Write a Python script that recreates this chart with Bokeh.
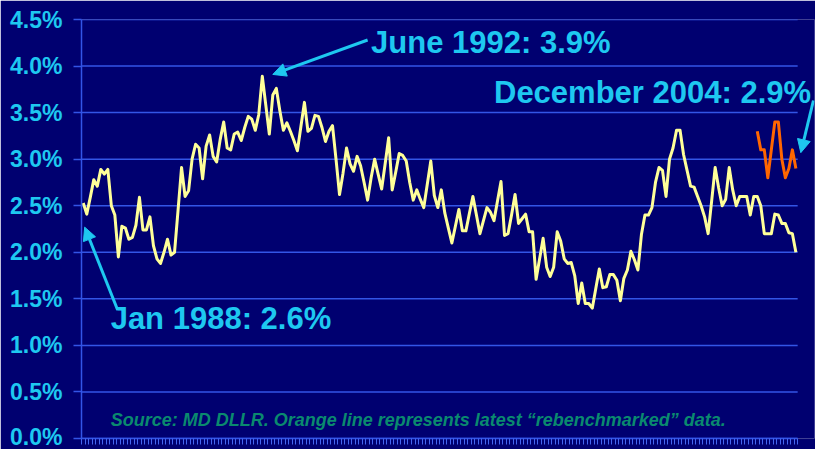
from bokeh.plotting import figure
from bokeh.models import (Arrow, NormalHead, Label, FixedTicker, PrintfTickFormatter,
                          Range1d, ColumnDataSource)
from bokeh.embed import file_html
from bokeh.resources import INLINE

# ---------------- data (monthly, Jan 1988 .. Dec 2004) ----------------
yellow = [
    2.53, 2.41, 2.59, 2.78, 2.71, 2.89, 2.84, 2.89, 2.50, 2.40, 1.95, 2.28,
    2.26, 2.14, 2.16, 2.29, 2.59, 2.24, 2.24, 2.38, 2.07, 1.93, 1.88, 2.00,
    2.14, 1.97, 2.00, 2.45, 2.91, 2.60, 2.66, 3.00, 3.16, 3.12, 2.79, 3.14,
    3.26, 3.03, 2.97, 3.21, 3.40, 3.12, 3.10, 3.27, 3.29, 3.20, 3.34, 3.46,
    3.43, 3.31, 3.48, 3.89, 3.58, 3.27, 3.69, 3.76, 3.52, 3.31, 3.39, 3.30,
    3.20, 3.09, 3.35, 3.61, 3.30, 3.33, 3.47, 3.46, 3.34, 3.19, 3.30, 3.36,
    3.00, 2.62, 2.85, 3.12, 2.95, 2.87, 3.03, 2.93, 2.75, 2.56, 2.80, 3.00,
    2.84, 2.68, 2.95, 3.23, 2.67, 2.86, 3.06, 3.04, 2.98, 2.75, 2.56, 2.67,
    2.57, 2.48, 2.73, 2.98, 2.61, 2.48, 2.67, 2.42, 2.26, 2.10, 2.28, 2.46,
    2.23, 2.23, 2.42, 2.60, 2.40, 2.20, 2.34, 2.48, 2.43, 2.34, 2.55, 2.76,
    2.18, 2.20, 2.40, 2.62, 2.31, 2.36, 2.41, 2.22, 2.22, 1.71, 1.93, 2.15,
    1.84, 1.74, 1.84, 2.22, 2.12, 1.93, 1.88, 1.89, 1.75, 1.45, 1.67, 1.45,
    1.45, 1.40, 1.61, 1.82, 1.62, 1.63, 1.76, 1.76, 1.70, 1.48, 1.72, 1.81,
    2.01, 1.92, 1.81, 2.19, 2.40, 2.40, 2.48, 2.75, 2.91, 2.88, 2.60, 3.00,
    3.12, 3.31, 3.31, 3.05, 2.88, 2.71, 2.70, 2.60, 2.50, 2.38, 2.20, 2.55,
    2.91, 2.69, 2.50, 2.57, 2.91, 2.67, 2.50, 2.60, 2.60, 2.60, 2.40, 2.60,
    2.60, 2.50, 2.20, 2.20, 2.20, 2.41, 2.40, 2.31, 2.31, 2.21, 2.20, 2.00,
]
months = list(range(len(yellow)))

# rebenchmarked 2004 data (Jan..Dec 2004)
orange = [3.3, 3.1, 3.1, 2.8, 3.1, 3.4, 3.4, 3.0, 2.8, 2.9, 3.1, 2.9]
orange_months = list(range(len(yellow) - len(orange), len(yellow)))

y_ticks = [0.0, 0.5, 1.0, 1.5, 2.0, 2.5, 3.0, 3.5, 4.0, 4.5]

note_jun = "June 1992: 3.9%"
note_jan = "Jan 1988: 2.6%"
note_dec = "December 2004: 2.9%"
note_src = "Source: MD DLLR. Orange line represents latest \u201crebenchmarked\u201d data."

# ---------------- styling ----------------
BG = "#000070"
GRID = "#3355E6"
CYAN = "#1EC8F0"
YELLOW = "#FFFF99"
ORANGE = "#FF6600"
SRC = "#0A8A6E"
FONT = "Liberation Sans"

n = len(yellow)
x_lo, x_hi = -0.5, n - 0.5          # category extent of the axis
# frame is a little wider than the axis so the right-hand arrow can sit outside it
p = figure(width=815, height=449, output_backend="svg", toolbar_location=None,
           x_range=Range1d(x_lo, x_hi + 4.8), y_range=Range1d(0, 4.5),
           min_border_left=81, min_border_right=1, min_border_top=19,
           min_border_bottom=11)
p.background_fill_color = BG
p.border_fill_color = BG
p.outline_line_color = None

p.xgrid.grid_line_color = None
p.ygrid.grid_line_color = None

# horizontal grid lines across the category extent only
p.segment(x0=[x_lo] * len(y_ticks), x1=[x_hi] * len(y_ticks), y0=y_ticks, y1=y_ticks,
          line_color=GRID, line_width=1.5)

# y axis
p.yaxis.ticker = FixedTicker(ticks=y_ticks)
p.yaxis.formatter = PrintfTickFormatter(format="%.1f%%")
p.yaxis.axis_line_color = GRID
p.yaxis.axis_line_width = 1.5
p.yaxis.major_tick_line_color = GRID
p.yaxis.major_tick_line_width = 1.5
p.yaxis.major_tick_out = 8
p.yaxis.major_tick_in = 0
p.yaxis.minor_tick_line_color = None
p.yaxis.major_label_text_color = CYAN
p.yaxis.major_label_text_font = FONT
p.yaxis.major_label_text_font_style = "bold"
p.yaxis.major_label_text_font_size = "23px"
p.yaxis.major_label_standoff = 11

# x axis: one tick between every month, no labels
p.xaxis.bounds = (x_lo, x_hi)
p.xaxis.ticker = FixedTicker(ticks=[m - 0.5 for m in months] + [x_hi])
p.xaxis.axis_line_color = GRID
p.xaxis.axis_line_width = 1.5
p.xaxis.major_tick_line_color = "#4466F0"
p.xaxis.major_tick_line_width = 1
p.xaxis.major_tick_out = 6
p.xaxis.major_tick_in = 0
p.xaxis.minor_tick_line_color = None
p.xaxis.major_label_text_font_size = "1px"
p.xaxis.major_label_text_alpha = 0
p.xaxis.major_label_standoff = 0

# series
src_y = ColumnDataSource(dict(x=months, y=yellow))
src_o = ColumnDataSource(dict(x=orange_months, y=orange))
p.line("x", "y", source=src_y, line_color=YELLOW, line_width=3, line_join="round")
p.line("x", "y", source=src_o, line_color=ORANGE, line_width=3, line_join="round")

# annotations
def note(x, y, text, size="31px", color=CYAN, style="bold"):
    p.add_layout(Label(x=x, y=y, text=text, text_font=FONT, text_font_style=style,
                       text_font_size=size, text_color=color,
                       text_baseline="middle", text_align="left"))

def arrow(x0, y0, x1, y1):
    p.add_layout(Arrow(end=NormalHead(size=13, fill_color=CYAN, line_color=CYAN),
                       x_start=x0, y_start=y0, x_end=x1, y_end=y1,
                       line_color=CYAN, line_width=3))

note(82, 4.25, note_jun)
arrow(81, 4.28, 54, 3.91)

note(7.8, 1.29, note_jan)
arrow(9.8, 1.38, 0.4, 2.27)

note(117.0, 3.72, note_dec)
arrow(208.0, 3.63, 204.4, 3.07)

note(7.8, 0.20, note_src, size="18px", color=SRC, style="bold italic")

open("out.html", "w").write(file_html(p, INLINE))
